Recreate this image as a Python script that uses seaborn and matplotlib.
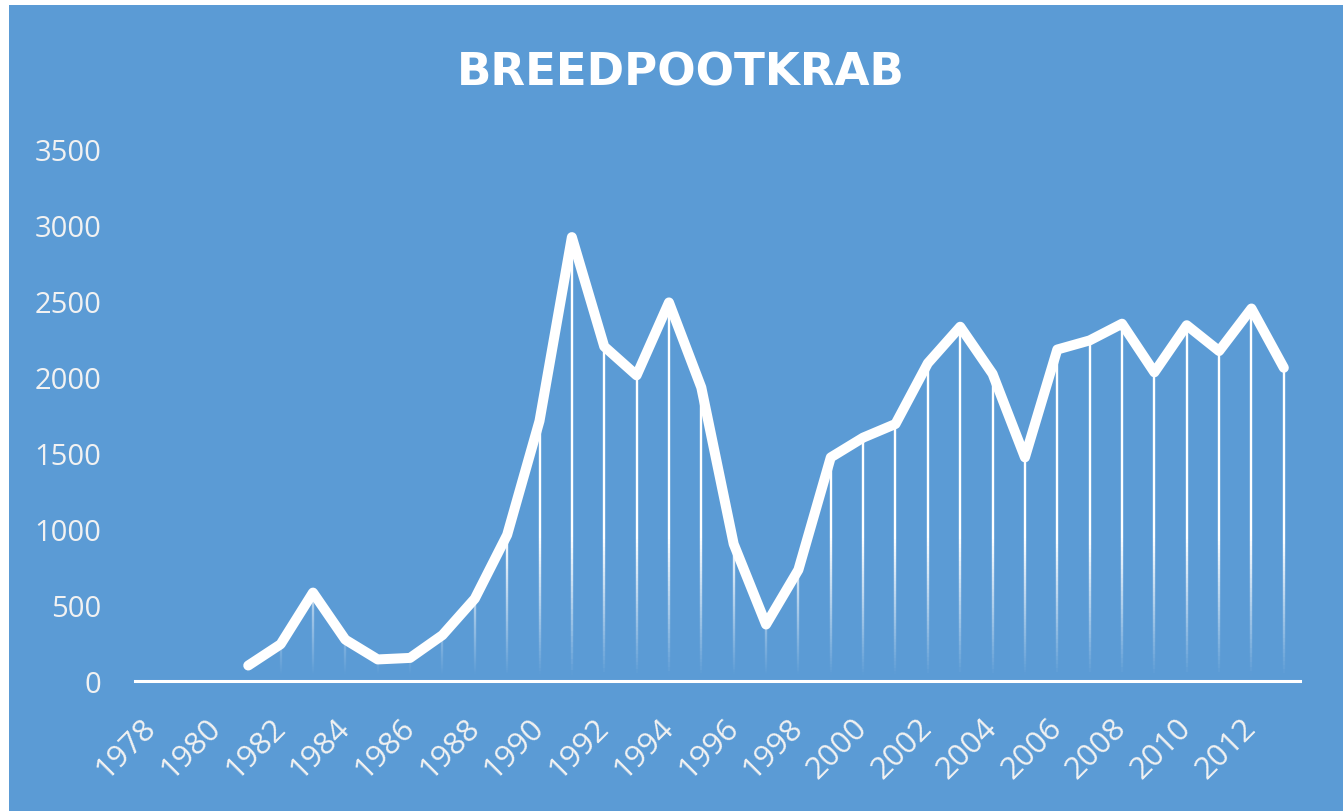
import numpy as np
import pandas as pd
import matplotlib
matplotlib.use("Agg")
import matplotlib.pyplot as plt
from matplotlib.collections import LineCollection
from matplotlib.patches import Rectangle
import seaborn as sns

title = "BREEDPOOTKRAB"
axis_years = list(range(1978, 2014))
years = list(range(1981, 2014))
values = [100, 240, 580, 270, 140, 150, 300, 540, 960, 1710,
          2920, 2200, 2010, 2490, 1930, 900, 370, 730, 1470, 1600,
          1690, 2090, 2330, 2020, 1470, 2180, 2240, 2350, 2030, 2340,
          2170, 2450, 2060]
yticks = [0, 500, 1000, 1500, 2000, 2500, 3000, 3500]

BLUE = "#5B9BD5"
TXT = "#F2F2F2"

sns.set_theme(style="white")
plt.rcParams["font.family"] = ["Open Sans", "DejaVu Sans"]

W, H = 1343, 812
fig = plt.figure(figsize=(W / 100, H / 100), dpi=100, facecolor="white")
fig.patches.append(Rectangle((9 / W, 0), 1 - 9 / W, 1 - 6 / H, transform=fig.transFigure,
                             facecolor=BLUE, edgecolor="none", zorder=-10))
ax = fig.add_axes([135 / W, 1 - 681.7 / H, 1165 / W, (681.7 - 150) / H])
ax.set_facecolor("none")

df = pd.DataFrame({"year": years, "value": values})

# gradient drop lines
segs, cols = [], []
n = 80
for x, v in zip(years, values):
    ys = np.linspace(0, v, n + 1)
    for i in range(n):
        y0, y1 = ys[i], ys[i + 1]
        segs.append([(x, y0), (x, y1)])
        a = np.clip(((y0 + y1) / 2 - 40) / 900, 0, 1)
        cols.append((1, 1, 1, a))
ax.add_collection(LineCollection(segs, colors=cols, linewidths=1.7, zorder=2))

sns.lineplot(data=df, x="year", y="value", color="white", linewidth=7.2, ax=ax,
             zorder=3, solid_joinstyle="round", solid_capstyle="round")

ax.set_xlim(axis_years[0] - 0.5, axis_years[-1] + 0.5)
ax.set_ylim(0, 3500)
ax.set_xlabel("")
ax.set_ylabel("")
for s in ["top", "right", "left"]:
    ax.spines[s].set_visible(False)
ax.spines["bottom"].set_color("white")
ax.spines["bottom"].set_linewidth(2.2)
ax.spines["bottom"].set_zorder(4)

ax.set_yticks(yticks)
ax.set_yticklabels([str(t) for t in yticks])
xt = [y for y in axis_years if y % 2 == 0]
ax.set_xticks(xt)
ax.set_xticklabels([str(y) for y in xt])
ax.tick_params(axis="y", length=0, pad=24, labelsize=21, labelcolor=TXT)
ax.tick_params(axis="x", length=0, pad=30, labelsize=22.5, labelcolor=TXT)
for lab in ax.get_xticklabels():
    lab.set_rotation(45)
    lab.set_ha("right")
    lab.set_va("center")
    lab.set_rotation_mode("anchor")

fig.text(681 / W, 1 - 72.5 / H, title, ha="center", va="center", color="white",
         fontsize=32.5, fontweight="bold", family="DejaVu Sans")

fig.savefig("out.png", dpi=100, facecolor="white")
